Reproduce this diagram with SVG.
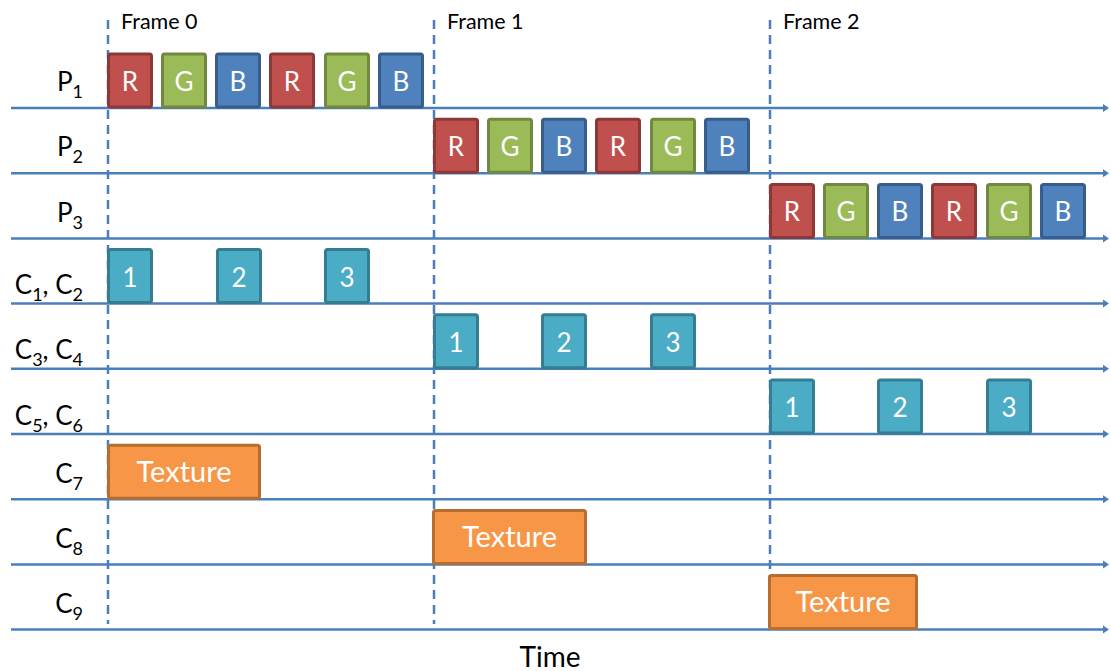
<svg xmlns="http://www.w3.org/2000/svg" width="1111" height="671" viewBox="0 0 1111 671">
<style>
text{font-family:Lato,"Open Sans","Liberation Sans",sans-serif;}
.axis{stroke:#4A7EBB;stroke-width:2.5;fill:none;marker-end:url(#arr);}
.dash{stroke:#4A7EBB;stroke-width:2.5;fill:none;stroke-dasharray:9,6;}
.box{stroke-width:3;}
.r{fill:#C0504D;stroke:#8C3836;}
.g{fill:#9BBB59;stroke:#71893F;}
.b{fill:#4F81BD;stroke:#385D8A;}
.c{fill:#4BACC6;stroke:#357D91;}
.o{fill:#F79646;stroke:#B66D31;}
.bt{fill:#fff;font-size:26px;text-anchor:middle;}
.tt{fill:#fff;font-size:29px;text-anchor:middle;}
.lab{fill:#000;font-size:26px;text-anchor:end;}
.sub{font-size:18px;}
.fr{fill:#000;font-size:21.5px;}
</style>
<defs>
<marker id="arr" markerWidth="7" markerHeight="9" refX="1" refY="4.5" orient="auto" markerUnits="userSpaceOnUse"><path d="M0,0.5 L6,4.5 L0,8.5 Z" fill="#4A7EBB"/></marker>
</defs>
<g id="connectors">
<line class="axis" x1="11" y1="108" x2="1104" y2="108"/>
<line class="axis" x1="11" y1="173.2" x2="1104" y2="173.2"/>
<line class="axis" x1="11" y1="238.4" x2="1104" y2="238.4"/>
<line class="axis" x1="11" y1="303.6" x2="1104" y2="303.6"/>
<line class="axis" x1="11" y1="368.8" x2="1104" y2="368.8"/>
<line class="axis" x1="11" y1="434" x2="1104" y2="434"/>
<line class="axis" x1="11" y1="499.2" x2="1104" y2="499.2"/>
<line class="axis" x1="11" y1="564.4" x2="1104" y2="564.4"/>
<line class="axis" x1="11" y1="629.6" x2="1104" y2="629.6"/>
<line class="dash" x1="108" y1="20" x2="108" y2="624"/>
<line class="dash" x1="434" y1="20" x2="434" y2="624"/>
<line class="dash" x1="770" y1="20" x2="770" y2="624"/>
</g>
<g id="frame-labels">
<text class="fr" x="121" y="29">Frame 0</text>
<text class="fr" x="447" y="29">Frame 1</text>
<text class="fr" x="783" y="29">Frame 2</text>
</g>
<g id="row-labels">
<text class="lab" x="83" y="91">P<tspan class="sub" dy="7">1</tspan></text>
<text class="lab" x="83" y="156">P<tspan class="sub" dy="7">2</tspan></text>
<text class="lab" x="83" y="222">P<tspan class="sub" dy="7">3</tspan></text>
<text class="lab" x="83" y="294">C<tspan class="sub" dy="7">1</tspan><tspan dy="-7">, C</tspan><tspan class="sub" dy="7">2</tspan></text>
<text class="lab" x="83" y="359">C<tspan class="sub" dy="7">3</tspan><tspan dy="-7">, C</tspan><tspan class="sub" dy="7">4</tspan></text>
<text class="lab" x="83" y="425">C<tspan class="sub" dy="7">5</tspan><tspan dy="-7">, C</tspan><tspan class="sub" dy="7">6</tspan></text>
<text class="lab" x="83" y="483">C<tspan class="sub" dy="7">7</tspan></text>
<text class="lab" x="83" y="548">C<tspan class="sub" dy="7">8</tspan></text>
<text class="lab" x="83" y="613">C<tspan class="sub" dy="7">9</tspan></text>
</g>
<g id="p1">
<rect class="box r" x="108.5" y="54" width="43" height="53" rx="2"/><text class="bt" x="130" y="91">R</text>
<rect class="box g" x="162.5" y="54" width="43" height="53" rx="2"/><text class="bt" x="184" y="91">G</text>
<rect class="box b" x="216.5" y="54" width="43" height="53" rx="2"/><text class="bt" x="238" y="91">B</text>
<rect class="box r" x="270.5" y="54" width="43" height="53" rx="2"/><text class="bt" x="292" y="91">R</text>
<rect class="box g" x="325.5" y="54" width="43" height="53" rx="2"/><text class="bt" x="347" y="91">G</text>
<rect class="box b" x="379.5" y="54" width="43" height="53" rx="2"/><text class="bt" x="401" y="91">B</text>
</g>
<g id="p2">
<rect class="box r" x="434.5" y="119.2" width="43" height="53" rx="2"/><text class="bt" x="456" y="156.2">R</text>
<rect class="box g" x="488.5" y="119.2" width="43" height="53" rx="2"/><text class="bt" x="510" y="156.2">G</text>
<rect class="box b" x="542.5" y="119.2" width="43" height="53" rx="2"/><text class="bt" x="564" y="156.2">B</text>
<rect class="box r" x="596.5" y="119.2" width="43" height="53" rx="2"/><text class="bt" x="618" y="156.2">R</text>
<rect class="box g" x="651.5" y="119.2" width="43" height="53" rx="2"/><text class="bt" x="673" y="156.2">G</text>
<rect class="box b" x="705.5" y="119.2" width="43" height="53" rx="2"/><text class="bt" x="727" y="156.2">B</text>
</g>
<g id="p3">
<rect class="box r" x="770.5" y="184.4" width="43" height="53" rx="2"/><text class="bt" x="792" y="221.4">R</text>
<rect class="box g" x="824.5" y="184.4" width="43" height="53" rx="2"/><text class="bt" x="846" y="221.4">G</text>
<rect class="box b" x="878.5" y="184.4" width="43" height="53" rx="2"/><text class="bt" x="900" y="221.4">B</text>
<rect class="box r" x="932.5" y="184.4" width="43" height="53" rx="2"/><text class="bt" x="954" y="221.4">R</text>
<rect class="box g" x="987.5" y="184.4" width="43" height="53" rx="2"/><text class="bt" x="1009" y="221.4">G</text>
<rect class="box b" x="1041.5" y="184.4" width="43" height="53" rx="2"/><text class="bt" x="1063" y="221.4">B</text>
</g>
<g id="c1c2">
<rect class="box c" x="108.5" y="249.6" width="43" height="53" rx="2"/><text class="bt" x="130" y="286.6">1</text>
<rect class="box c" x="217.5" y="249.6" width="43" height="53" rx="2"/><text class="bt" x="239" y="286.6">2</text>
<rect class="box c" x="325.5" y="249.6" width="43" height="53" rx="2"/><text class="bt" x="347" y="286.6">3</text>
</g>
<g id="c3c4">
<rect class="box c" x="434.5" y="314.8" width="43" height="53" rx="2"/><text class="bt" x="456" y="351.8">1</text>
<rect class="box c" x="542.5" y="314.8" width="43" height="53" rx="2"/><text class="bt" x="564" y="351.8">2</text>
<rect class="box c" x="651.5" y="314.8" width="43" height="53" rx="2"/><text class="bt" x="673" y="351.8">3</text>
</g>
<g id="c5c6">
<rect class="box c" x="770.5" y="380" width="43" height="53" rx="2"/><text class="bt" x="792" y="417">1</text>
<rect class="box c" x="878.5" y="380" width="43" height="53" rx="2"/><text class="bt" x="900" y="417">2</text>
<rect class="box c" x="987.5" y="380" width="43" height="53" rx="2"/><text class="bt" x="1009" y="417">3</text>
</g>
<g id="c7">
<rect class="box o" x="108.5" y="445.2" width="151" height="53" rx="2"/><text class="tt" x="184" y="482">Texture</text>
</g>
<g id="c8">
<rect class="box o" x="433.5" y="510.4" width="152" height="53" rx="2"/><text class="tt" x="509.5" y="547.2">Texture</text>
</g>
<g id="c9">
<rect class="box o" x="769.5" y="575.6" width="147" height="53" rx="2"/><text class="tt" x="843" y="612.4">Texture</text>
</g>
<text x="550" y="667" style="font-size:28px;fill:#000;text-anchor:middle">Time</text>
</svg>
